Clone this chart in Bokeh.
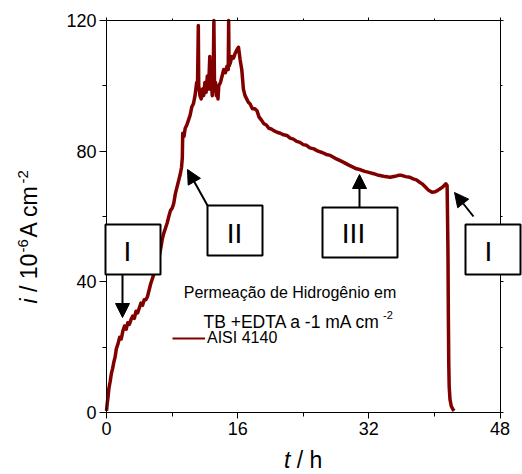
from bokeh.plotting import figure
from bokeh.models import (Range1d, FixedTicker, LinearAxis, BoxAnnotation, Label,
                          Arrow, NormalHead, Legend, LegendItem)
from bokeh.embed import file_html
from bokeh.resources import INLINE

# ---------------- data ----------------
t_h = [0, 0.1, 0.2, 0.3, 0.45, 0.6, 0.75, 0.9, 1.05, 1.2, 1.4, 1.6, 1.8, 2.0, 2.2, 2.4,
       2.6, 2.8, 3.0, 3.2, 3.4, 3.6, 3.8, 4.0, 4.2, 4.4, 4.6, 4.8, 5.0, 5.2, 5.4, 5.6,
       5.8, 6.0, 6.2, 6.4, 6.6, 6.8, 7.0, 7.2, 7.4, 7.6, 7.8, 8.0, 8.2, 8.4, 8.6, 8.8,
       9.0, 9.15, 9.25,
       9.3, 9.45, 9.6, 9.8, 10.0, 10.2, 10.4, 10.6, 10.8, 11.0, 11.1, 11.2, 11.25, 11.4,
       11.55, 11.7, 11.85, 12.0, 12.15, 12.3, 12.45, 12.6, 12.68, 12.8, 12.9, 13.0, 13.1,
       13.18, 13.3, 13.4, 13.5, 13.6, 13.7, 13.9, 14.1, 14.3, 14.5, 14.7, 14.85, 14.9,
       14.95, 15.1, 15.3, 15.5, 15.7, 15.9, 16.1, 16.3, 16.5, 16.7, 16.9, 17.1, 17.3,
       17.5, 17.8, 18.1, 18.35, 18.6, 18.9, 19.2, 19.5, 19.8, 20.1, 20.4, 20.8, 21.2,
       21.6, 22.0, 22.4, 22.8, 23.2, 23.6, 24.0, 24.4, 24.8, 25.3, 25.8, 26.3, 26.8,
       27.3, 27.9, 28.5, 29.0, 29.5, 30.0, 30.5, 31.0, 31.5, 32.0, 32.6, 33.2, 33.8,
       34.6, 35.2, 35.6, 36.0, 36.5, 37.0, 37.4, 37.8, 38.2, 38.5, 38.9, 39.3, 39.7,
       40.1, 40.4, 40.7, 41.0, 41.2, 41.4, 41.55, 41.65, 41.7, 41.75, 41.8, 41.9, 42.05,
       42.25, 42.4]
i_ua = [0.5, 3, 5, 7.5, 9.5, 12, 13.5, 15.5, 17, 19.5, 21, 23, 22.5, 25, 26.5, 25.5,
        27.5, 27, 28.5, 29.5, 28.8, 31, 30.5, 32, 33.5, 32.8, 34.5, 34.5, 35.5, 37.5, 39.5, 41,
        42.5, 44, 46, 47.5, 50, 53, 55, 56.5, 58, 60, 61.8, 62.5, 64, 67, 69, 71,
        73, 75, 78,
        85.5, 84.5, 87, 88, 89.5, 91, 93.5, 94.5, 97, 101, 100, 118.5, 100, 97,
        96, 99, 97, 101, 98, 103, 99, 109, 99, 101, 97, 100, 120,
        99, 101, 97, 98.5, 96, 100, 101, 103, 105, 104, 106, 105, 120,
        106, 107, 109, 108.5, 110, 111, 111.8, 108, 105, 99, 97, 96, 95,
        94.5, 93, 93, 92.4, 90.5, 89.5, 88.4, 88, 87, 86.8, 86.3, 85.8, 85.5,
        85, 84.8, 84, 83.7, 83, 82.7, 82, 81.8, 81, 80.7, 80, 79.6, 79,
        78.7, 77.8, 77.1, 76.5, 75.8, 75.2, 74.6, 74.3, 73.8, 73.5, 73.1, 72.6, 72.3,
        72, 72.3, 72.6, 72.6, 72.2, 72, 71.5, 71.2, 70.5, 70, 69, 68, 67.4,
        67.6, 68, 68.5, 69, 69.5, 70, 69.5, 50, 30, 15, 8, 4, 2,
        1, 0.5]
x_ticks = [0, 16, 32, 48]
x_minor = [8, 24, 40]
y_ticks = [0, 40, 80, 120]
y_minor = [20, 60, 100]
series_label = "AISI 4140"
title_line1 = "Permeação de Hidrogênio em"
title_line2 = "TB +EDTA a -1 mA cm"
title_sup = "-2"
box_labels = ["I", "II", "III", "I"]

# ---------------- layout ----------------
W, H = 522, 474
PX0, PX1 = 106.0, 499.5      # pixel columns of t = 0 and t = 48
PY0, PY1 = 412.0, 20.0       # pixel rows of i = 0 and i = 120
XMAX, YMAX = 48, 120
FONT = "Liberation Sans"
RED = "#800000"
BASE_FIX = 0.33               # em shift that puts the alphabetic baseline where wanted


def X(px):
    return (px - PX0) / (PX1 - PX0) * XMAX


def Y(py):
    return (PY0 - py) / (PY0 - PY1) * YMAX


def label(px, py, text, size, style="normal", align="left", angle=0.0):
    fix = BASE_FIX * size
    if angle:
        px -= fix
    else:
        py -= fix
    return Label(x=X(px), y=Y(py), text=text, angle=angle, text_font=FONT,
                 text_font_size=f"{size}px", text_font_style=style, text_color="black",
                 text_align=align, text_baseline="alphabetic")


p = figure(width=W, height=H, output_backend="svg", toolbar_location=None,
           x_range=Range1d(X(0), X(W)), y_range=Range1d(Y(H), Y(0)),
           x_axis_location=None, y_axis_location=None,
           min_border=0, min_border_left=0, min_border_right=0,
           min_border_top=0, min_border_bottom=0)
p.grid.visible = False
p.outline_line_color = None
p.background_fill_color = "white"
p.border_fill_color = "white"


def make_axis(loc, bounds, ticks, minor, labels, tick_out, minor_out):
    ax = LinearAxis(fixed_location=loc, bounds=bounds,
                    ticker=FixedTicker(ticks=ticks, minor_ticks=minor),
                    axis_line_color="black", axis_line_width=1,
                    major_tick_line_color="black", minor_tick_line_color="black",
                    major_tick_in=0, minor_tick_in=0,
                    major_tick_out=tick_out, minor_tick_out=minor_out,
                    major_label_text_font=FONT, major_label_text_font_size="18px",
                    major_label_standoff=3)
    ax.major_label_text_color = "black" if labels else None
    return ax


p.add_layout(make_axis(0, (0, XMAX), x_ticks, x_minor, True, 6, 4), "below")
p.add_layout(make_axis(0, (0, YMAX), y_ticks, y_minor, True, 7, 4), "left")
p.add_layout(make_axis(YMAX, (0, XMAX), x_ticks, x_minor, False, 3, 2), "above")
p.add_layout(make_axis(XMAX, (0, YMAX), y_ticks, y_minor, False, 3, 2), "right")

# ---------------- curve ----------------
p.line(t_h, i_ua, line_color=RED, line_width=3.5, line_join="round")

# legend (sample line of normal width, drawn under the main curve)
leg_r = p.line(t_h[:2], i_ua[:2], line_color=RED, line_width=2)
legend = Legend(items=[LegendItem(label=series_label, renderers=[leg_r])],
                location=(172, H - 348), border_line_color=None,
                background_fill_alpha=0, padding=0, margin=0, spacing=0,
                glyph_width=33, glyph_height=20, label_height=20, label_standoff=2,
                label_text_font=FONT, label_text_font_size="16px",
                label_text_color="black")
p.add_layout(legend, "center")

p.add_layout(label(289.5, 297, title_line1, 16, align="center"))
p.add_layout(label(203, 327, title_line2, 17.5))
p.add_layout(label(382.5, 318, title_sup, 11))

# ---------------- boxes with roman numerals ----------------
boxes = [  # (left, right, top, bottom) in px, text centre x, baseline y
    (105, 160, 224, 274, 127, 260),
    (207, 262, 205, 255, 234, 242),
    (322, 397, 207, 257, 353, 242),
    (465, 520, 224, 274, 488, 260),
]
for (bl, br, bt, bb, tx, ty), lab in zip(boxes, box_labels):
    p.add_layout(BoxAnnotation(left=X(bl), right=X(br), top=Y(bt), bottom=Y(bb),
                               fill_color="white", fill_alpha=1.0,
                               line_color="black", line_width=2, line_alpha=1.0))
    p.add_layout(label(tx, ty, lab, 28, align="center"))

arrows = [  # start px -> tip px
    (122, 274, 122, 317),
    (207, 205, 187, 169),
    (359, 207, 359, 174),
    (473, 216, 454, 192),
]
for xs, ys, xe, ye in arrows:
    p.add_layout(Arrow(x_start=X(xs), y_start=Y(ys), x_end=X(xe), y_end=Y(ye),
                       line_color="black", line_width=2,
                       end=NormalHead(size=14, fill_color="black", line_color="black",
                                      line_width=1)))

# ---------------- axis titles ----------------
p.add_layout(label(283.4, 467, "t", 23, style="italic"))
p.add_layout(label(296.2, 467, "/ h", 23))

ang = 1.5707963
ybx, sbx = 36.5, 27
for text, py, bx, size, style in [("i", 303, ybx, 23, "italic"),
                                  ("/ 10", 291.5, ybx, 23, "normal"),
                                  ("-6", 252, sbx, 15, "normal"),
                                  ("A cm", 237, ybx, 23, "normal"),
                                  ("-2", 183, sbx, 15, "normal")]:
    p.add_layout(label(bx, py, text, size, style=style, angle=ang))

open("out.html", "w").write(file_html(p, INLINE))
